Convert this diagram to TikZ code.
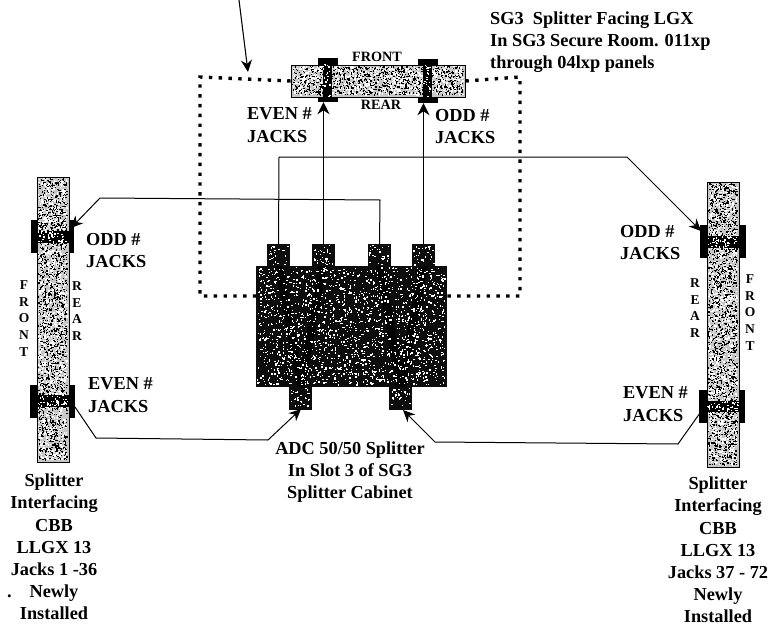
\documentclass[tikz,border=0pt]{standalone}
\usepackage{fontspec}
\setmainfont{Liberation Serif}
\usetikzlibrary{arrows.meta}
\newcommand{\speckle}[6]{% x1 y1 x2 y2 colour count
  \foreach \i in {1,...,#6}{%
    \pgfmathsetmacro{\spx}{#1+rnd*(#3-#1-1.6)}%
    \pgfmathsetmacro{\spy}{#2+rnd*(#4-#2-1.6)}%
    \pgfmathsetmacro{\spw}{0.7+rnd*1.2}%
    \fill[#5] (\spx,\spy) rectangle +(\spw,1.3);%
  }%
}
\tikzset{
  txt/.style={font=\bfseries\fontsize{18.3}{22.2}\selectfont,text=black,inner sep=0pt},
  small/.style={font=\bfseries\fontsize{14.2}{16}\selectfont,text=black,inner sep=0pt},
  vert/.style={font=\bfseries\fontsize{13.5}{16.8}\selectfont,text=black,inner sep=0pt,align=center},
  bar/.style={draw=black,line width=.8pt,fill=black!22,inner sep=0pt,minimum width=#1},
  clip part/.style={fill=black,inner sep=0pt},
  darkpart/.style={fill=black!95,inner sep=0pt},
  wire/.style={draw=black,line width=1pt},
  arrowwire/.style={wire,-{Stealth[length=12pt,width=11pt]}},
  riser/.style={draw=black,line width=1.3pt,-{Stealth[length=12pt,width=12pt]}},
  dotrect/.style={draw=black,line width=3.4pt,dash pattern=on 3.4pt off 6.4pt}
}
\begin{document}
\begin{tikzpicture}[x=1pt,y=-1pt]
\pgfmathsetseed{4242}
\useasboundingbox (0,0) rectangle (773,626);
\fill[white] (0,0) rectangle (773,626);

% corners of the dotted enclosure
\coordinate (tl) at (200,77);
\coordinate (tr) at (520,77);
\coordinate (bl) at (200,296);
\coordinate (br) at (520,296);

% top splitter clips (behind bar)
\node[clip part,minimum width=20pt,minimum height=44pt] (tcl) at (328,80) {};
\node[clip part,minimum width=20pt,minimum height=44pt] (tcr) at (428,81) {};
% top splitter bar
\node[bar,minimum width=174pt,minimum height=32pt] (topbar) at (378,81) {};
\speckle{292}{66}{464}{96}{black}{1300}
\speckle{292}{66}{464}{96}{white}{1000}
\fill[black] (323,60) rectangle (332,101);
\fill[black] (423,60) rectangle (432,102);
\speckle{323}{64}{332}{98}{white}{22}
\speckle{423}{64}{432}{98}{white}{22}

% left splitter
\node[clip part,minimum width=43pt,minimum height=33pt] (lcu) at (52.5,236.5) {};
\node[clip part,minimum width=45pt,minimum height=33pt] (lcl) at (52.5,401.5) {};
\node[bar,minimum width=32pt,minimum height=285pt] (lbar) at (53,319.5) {};
\speckle{38}{178}{68}{461}{black}{1900}
\speckle{38}{178}{68}{461}{white}{1400}
\fill[black] (37,231) rectangle (69,243);
\fill[black] (37,395) rectangle (69,407);
\speckle{37}{231}{69}{243}{white}{45}
\speckle{37}{395}{69}{407}{white}{45}

% right splitter
\node[clip part,minimum width=46pt,minimum height=33pt] (rcu) at (723,241.5) {};
\node[clip part,minimum width=46pt,minimum height=33pt] (rcl) at (722,406) {};
\node[bar,minimum width=32pt,minimum height=285pt] (rbar) at (723,324.5) {};
\speckle{708}{183}{738}{466}{black}{1900}
\speckle{708}{183}{738}{466}{white}{1400}
\fill[black] (707,236) rectangle (739,248);
\fill[black] (707,401) rectangle (739,412);
\speckle{707}{236}{739}{248}{white}{45}
\speckle{707}{401}{739}{412}{white}{45}

% dark splitter block
\node[darkpart,minimum width=191pt,minimum height=121pt] (box) at (351.5,326.5) {};
\node[darkpart,minimum width=23pt,minimum height=23pt] (p1) at (278.5,255.5) {};
\node[darkpart,minimum width=23pt,minimum height=23pt] (p2) at (323.5,255.5) {};
\node[darkpart,minimum width=23pt,minimum height=23pt] (p3) at (379.5,255.5) {};
\node[darkpart,minimum width=23pt,minimum height=23pt] (p4) at (423.5,255.5) {};
\node[darkpart,minimum width=23pt,minimum height=23pt] (q1) at (300.5,398) {};
\node[darkpart,minimum width=23pt,minimum height=23pt] (q2) at (400.5,398) {};
\fill[black] (275,266) -- (283,266) -- (305,387) -- (297,387) -- cycle;
\fill[black] (319,266) -- (327,266) -- (305,387) -- (297,387) -- cycle;
\fill[black] (376,266) -- (384,266) -- (405,387) -- (396,387) -- cycle;
\fill[black] (420,266) -- (428,266) -- (405,387) -- (396,387) -- cycle;
\speckle{257}{267}{446}{386}{white}{1700}
\speckle{268}{245}{289}{266}{white}{30}
\speckle{313}{245}{334}{266}{white}{30}
\speckle{369}{245}{390}{266}{white}{30}
\speckle{413}{245}{435}{266}{white}{30}
\speckle{290}{388}{311}{408}{white}{28}
\speckle{390}{388}{411}{408}{white}{28}

% dotted enclosure
\draw[dotrect] (topbar.west) -- (tl) -- (bl) -- (box.west |- bl);
\draw[dotrect] (topbar.east) -- (tr) -- (br) -- (box.east |- br);

% top free arrow
\coordinate (topstart) at (239,0);
\coordinate (toptip) at (248,72);
\draw[arrowwire,line width=1.1pt] (topstart) -- (toptip);

% risers
\draw[riser] (p2.north) -- (p2.north |- tcl.south);
\draw[riser] (p4.north) -- (p4.north |- tcr.south);

% fibre runs
\coordinate (runa) at (279,157);
\coordinate (runb) at (627,157);
\coordinate (runc) at (380,200);
\coordinate (rund) at (100,198);
\coordinate (rune) at (96,438);
\coordinate (runf) at (268,440);
\coordinate (rung) at (435,442);
\coordinate (runh) at (678,444);
\coordinate (tipr) at (701,231);
\coordinate (tipl) at (71,228);
\coordinate (tipq1) at (301,409);
\coordinate (tipq2) at (403,410);
\coordinate (startl) at (75,407);
\coordinate (startr) at (700,413);
\draw[arrowwire] (p1.north) -- (runa) -- (runb) -- (tipr);
\draw[arrowwire] (p3.north) -- (runc) -- (rund) -- (tipl);
\draw[arrowwire] (startl) -- (rune) -- (runf) -- (tipq1);
\draw[arrowwire] (startr) -- (runh) -- (rung) -- (tipq2);

% labels, top
\node[small] (front) at (377,57) {FRONT};
\node[small] (rear) at (381,105) {REAR};
\node[txt,align=left,anchor=west] (sg3) at (490,42) {SG3\ \ Splitter Facing LGX\\In SG3 Secure Room. 011xp\\through 04lxp panels};
\node[txt,align=left,anchor=west] (even1) at (247,125) {EVEN \#\\JACKS};
\node[txt,align=left,anchor=west] (odd1) at (435,126.5) {ODD \#\\JACKS};

% labels, left
\node[txt,align=left,anchor=west] (odd2) at (86,250.5) {ODD \#\\JACKS};
\node[txt,align=left,anchor=west] (even2) at (88,395) {EVEN \#\\JACKS};
\node[vert] (lf) at (24,318.5) {F\\R\\O\\N\\T};
\node[vert] (lr) at (77,311) {R\\E\\A\\R};
\node[txt,align=center] (lcap) at (54,547) {Splitter\\Interfacing\\CBB\\LLGX 13\\Jacks 1 -36\\\llap{.\hspace{18pt}}Newly\\Installed};

% labels, right
\node[txt,align=left,anchor=west] (odd3) at (620,242.5) {ODD \#\\JACKS};
\node[txt,align=left,anchor=west] (even3) at (623,404) {EVEN \#\\JACKS};
\node[vert] (rr) at (695,308) {R\\E\\A\\R};
\node[vert] (rf) at (750,312.5) {F\\R\\O\\N\\T};
\node[txt,align=center] (rcap) at (718,550) {Splitter\\Interfacing\\CBB\\LLGX 13\\Jacks 37 - 72\\Newly\\Installed};

% bottom centre label
\node[txt,align=center] (adc) at (350,472) {ADC 50/50 Splitter\\In Slot 3 of SG3\\Splitter Cabinet};
\end{tikzpicture}
\end{document}
